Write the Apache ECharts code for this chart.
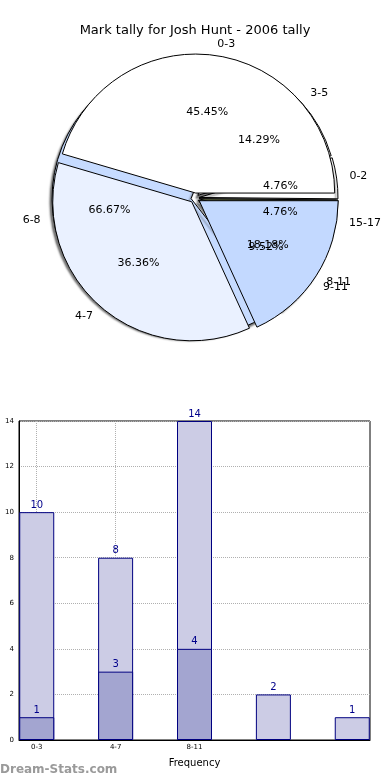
<!DOCTYPE html>
<html>
<head>
<meta charset="utf-8">
<script src="https://cdn.jsdelivr.net/npm/echarts@6/dist/echarts.min.js"></script>
<style>
html,body{margin:0;padding:0;background:#fff;}
#c{width:390px;height:780px;}
</style>
</head>
<body>
<div id="c"></div>
<script>
// ---- data ----
var titleText = 'Mark tally for Josh Hunt - 2006 tally';
var pie1Names = ['0-3', '4-7', '8-11'];
var pie1Values = [10, 8, 4];
var pie2Names = ['9-11', '15-17', '0-2', '3-5', '6-8'];
var pie2Values = [2, 1, 1, 3, 14];
var barCategories = ['0-3', '4-7', '8-11', '', ''];
var lightBarValues = [10, 8, 14, 2, 1];
var darkBarValues = [1, 3, 4];
var yTicks = [0, 2, 4, 6, 8, 10, 12, 14];

// ---- styles ----
var pie1Colors = ['#ffffff', '#eaf1ff', '#c3d9ff'];
var pie2Colors = ['#c3d9ff', '#c9d98a', '#ffffff', '#ffffff', '#c6dbff'];
var C = [195, 198], R = 139;
var font = 'DejaVu Sans';

function sum(a){return a.reduce(function(s,v){return s+v;},0);}
function pieData(names, values, colors, sel){
  return names.map(function(n,i){
    return {name:n, value:values[i], selected: sel, itemStyle:{color: colors ? colors[i] : 'rgba(0,0,0,0)'}};
  });
}
function pctFormatter(values){
  var t = sum(values);
  return function(p){ return (p.value / t * 100).toFixed(2) + '%'; };
}
function shapeSeries(names, values, colors, start, offset, z, shadow){
  return {
    type:'pie', center:C, radius:[0,R], startAngle:start, clockwise:false,
    selectedMode:'multiple', selectedOffset:offset, silent:true, z:z,
    avoidLabelOverlap:false, animation:false,
    label:{show:false}, labelLine:{show:false},
    itemStyle: shadow ? {borderColor:'#000', borderWidth:1, shadowColor:'rgba(0,0,0,0.55)', shadowBlur:2, shadowOffsetX:-2, shadowOffsetY:3}
                      : {borderColor:'#000', borderWidth:1},
    emphasis:{disabled:true},
    data: pieData(names, values, colors, true)
  };
}
function labelSeries(names, values, start, radius, fmt, z, sideAlign){
  var s = {
    type:'pie', center:C, radius:radius, startAngle:start, clockwise:false,
    silent:true, z:z, avoidLabelOverlap:false, animation:false,
    itemStyle:{color:'rgba(0,0,0,0)', borderWidth:0},
    label:{show:true, position:'inside', formatter:fmt, color:'#000', fontFamily:font, fontSize:11},
    labelLine:{show:false},
    emphasis:{disabled:true},
    data: pieData(names, values, null, false)
  };
  if (sideAlign) {
    s.labelLayout = function(p){
      var r = p.labelRect;
      var cx = r.x + r.width/2, cy = r.y + r.height/2;
      return {x: cx, y: cy, align: cx >= C[0] ? 'left' : 'right', verticalAlign:'middle', hideOverlap:false};
    };
  } else {
    s.labelLayout = {hideOverlap:false};
  }
  return s;
}

var chart = echarts.init(document.getElementById('c'), null, {renderer:'canvas'});
chart.setOption({
  backgroundColor:'#fff',
  animation:false,
  title:{text:titleText, left:'center', top:19,
    textStyle:{fontFamily:font, fontSize:13, fontWeight:'normal', color:'#000'}},
  graphic:[{type:'text', left:0, top:764,
    style:{text:'Dream-Stats.com', fill:'#9a9a9a', font:'bold 12px "DejaVu Sans"'}}],
  grid:{left:19, right:20, top:421, bottom:40, show:true, borderColor:'#000', borderWidth:1,
    containLabel:false, outerBoundsMode:'none'},
  xAxis:{
    type:'value', min:-0.225, max:4.225,
    name:'Frequency', nameLocation:'middle', nameGap:18,
    nameTextStyle:{fontFamily:font, fontSize:10, color:'#000'},
    axisLine:{show:true, onZero:false, lineStyle:{color:'#000'}},
    axisTick:{show:false, customValues:[0,1,2]},
    axisLabel:{customValues:[0,1,2], fontFamily:font, fontSize:7, color:'#000', margin:4,
      formatter:function(v){return barCategories[Math.round(v)];}},
    splitLine:{show:true, lineStyle:{color:'#b0b0b0', type:'dotted', width:1}}
  },
  yAxis:{
    type:'value', min:yTicks[0], max:yTicks[yTicks.length-1], interval:2,
    name:'Mark Interval', nameLocation:'middle', nameGap:19,
    nameTextStyle:{fontFamily:font, fontSize:9, color:'#000'},
    axisLine:{show:true, onZero:false, lineStyle:{color:'#000'}},
    axisTick:{show:false},
    axisLabel:{fontFamily:font, fontSize:7, color:'#000', margin:5},
    splitLine:{show:true, lineStyle:{color:'#b0b0b0', type:'dotted', width:1}}
  },
  series:[
    shapeSeries(pie2Names, pie2Values, pie2Colors, 308, 4, 1, true),
    shapeSeries(pie1Names, pie1Values, pie1Colors, 0, 5, 2, false),
    labelSeries(pie1Names, pie1Values, 0, [R*0.2, R], pctFormatter(pie1Values), 3, false),
    labelSeries(pie2Names, pie2Values, 308, [R*0.2, R], pctFormatter(pie2Values), 3, false),
    labelSeries(pie1Names, pie1Values, 0, [R, R*1.2], '{b}', 3, true),
    labelSeries(pie2Names, pie2Values, 308, [R, R*1.2], '{b}', 3, true),
    {
      type:'bar', barWidth:35, barGap:'-100%', animation:false,
      itemStyle:{color:'#ccccE5', borderColor:'#000080', borderWidth:1},
      label:{show:true, position:'top', distance:2, color:'#00008b', fontFamily:font, fontSize:10},
      data: lightBarValues.map(function(v,i){return [i, v];})
    },
    {
      type:'bar', barWidth:35, barGap:'-100%', animation:false,
      itemStyle:{color:'#a3a5d0', borderColor:'#000080', borderWidth:1},
      label:{show:true, position:'top', distance:2, color:'#00008b', fontFamily:font, fontSize:10},
      data: darkBarValues.map(function(v,i){return [i, v];})
    }
  ]
});
</script>
</body>
</html>
